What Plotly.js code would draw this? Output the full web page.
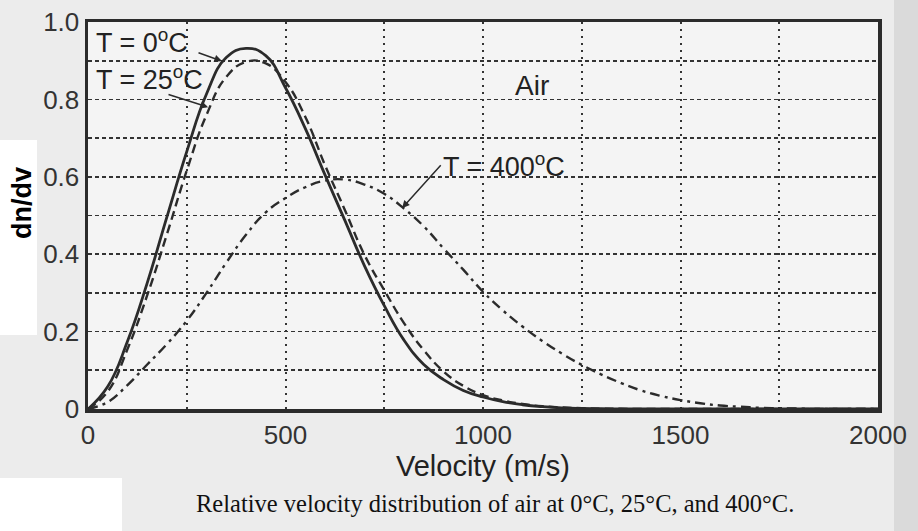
<!DOCTYPE html>
<html>
<head>
<meta charset="utf-8">
<script src="https://cdn.plot.ly/plotly-3.0.1.min.js"></script>
<style>
  html, body { margin: 0; padding: 0; background: #ececec; }
  #chart { width: 918px; height: 531px; }
</style>
</head>
<body>
<div id="chart"></div>
<script>
// Velocity (m/s)
const velocity = [0, 50, 100, 150, 200, 250, 300, 350, 400, 450, 500, 550, 600, 650, 700, 750, 800, 850, 900, 950,
                  1000, 1050, 1100, 1150, 1200, 1250, 1300, 1350, 1400, 1450, 1500, 1550, 1600, 1650, 1700, 1750, 1800, 1850, 1900, 1950, 2000];
// Relative dn/dv
const air0C = [0, 0.058, 0.175, 0.326, 0.497, 0.665, 0.814, 0.908, 0.932, 0.913, 0.83, 0.725, 0.605, 0.488, 0.37, 0.267, 0.178, 0.115, 0.076, 0.048,
               0.031, 0.019, 0.011, 0.006, 0.003, 0.0015, 0.0007, 0.0003, 0, 0, 0, 0, 0, 0, 0, 0, 0, 0, 0, 0, 0];
const air25C = [0, 0.045, 0.155, 0.294, 0.452, 0.616, 0.76, 0.858, 0.897, 0.893, 0.845, 0.755, 0.63, 0.515, 0.398, 0.307, 0.222, 0.152, 0.097, 0.06,
                0.036, 0.022, 0.013, 0.007, 0.004, 0.002, 0.001, 0.0005, 0, 0, 0, 0, 0, 0, 0, 0, 0, 0, 0, 0, 0];
const air400C = [0, 0.018, 0.062, 0.115, 0.168, 0.228, 0.30, 0.378, 0.45, 0.508, 0.545, 0.573, 0.59, 0.593, 0.58, 0.556, 0.518, 0.472, 0.415, 0.36,
                 0.303, 0.255, 0.213, 0.176, 0.143, 0.114, 0.089, 0.067, 0.048, 0.034, 0.023, 0.015, 0.009, 0.006, 0.003, 0.002, 0.001, 0, 0, 0, 0];

const ink = '#2b2b2b';
const sans = 'Liberation Sans, Arial, Helvetica, sans-serif';

const traces = [
  { x: velocity, y: air0C, type: 'scatter', mode: 'lines', name: 'T = 0°C',
    line: { color: ink, width: 2.8, shape: 'spline', smoothing: 1.3 } },
  { x: velocity, y: air25C, type: 'scatter', mode: 'lines', name: 'T = 25°C',
    line: { color: ink, width: 2.4, dash: '9px,5px', shape: 'spline', smoothing: 1.3 } },
  { x: velocity, y: air400C, type: 'scatter', mode: 'lines', name: 'T = 400°C',
    line: { color: ink, width: 2.4, dash: '10px,5px,3px,5px', shape: 'spline', smoothing: 1.3 } }
];

// pixel -> paper helpers for decorative background patches and outer texts
const L = 88, R = 878, T = 22, B = 409;
const px = v => (v - L) / (R - L);
const py = v => (B - v) / (B - T);

const layout = {
  width: 918, height: 531,
  margin: { l: L, r: 918 - R, t: T, b: 531 - B },
  paper_bgcolor: '#ececec',
  plot_bgcolor: '#f4f4f4',
  showlegend: false,
  font: { family: sans, color: '#333' },
  xaxis: {
    range: [0, 2000], tick0: 0, dtick: 500, ticks: '',
    showline: true, linecolor: ink, linewidth: 3.5, mirror: true,
    showgrid: true, gridcolor: '#333', gridwidth: 2, griddash: '2px,5px',
    minor: { tick0: 0, dtick: 250, showgrid: true, gridcolor: '#333', gridwidth: 2, griddash: '2px,5px', ticks: '' },
    zeroline: false, tickfont: { size: 26, color: '#333', family: sans },
    title: { text: 'Velocity (m/s)', font: { size: 29, color: '#222', family: sans }, standoff: 4 },
    automargin: false
  },
  yaxis: {
    range: [0, 1.0], ticks: '',
    tickvals: [0, 0.2, 0.4, 0.6, 0.8, 1.0], ticktext: ['0', '0.2', '0.4', '0.6', '0.8', '1.0'],
    showline: true, linecolor: ink, linewidth: 3.5, mirror: true,
    showgrid: true, gridcolor: '#333', gridwidth: 1.6, griddash: '4px,3px',
    minor: { tick0: 0, dtick: 0.1, showgrid: true, gridcolor: '#333', gridwidth: 1.6, griddash: '4px,3px', ticks: '' },
    zeroline: false, tickfont: { size: 26, color: '#333', family: sans },
    automargin: false
  },
  shapes: [
    { type: 'rect', xref: 'paper', yref: 'paper', x0: px(0), x1: px(37), y0: py(335), y1: py(140),
      fillcolor: '#ffffff', line: { width: 0 }, layer: 'below' },
    { type: 'rect', xref: 'paper', yref: 'paper', x0: px(0), x1: px(122), y0: py(531), y1: py(478),
      fillcolor: '#ffffff', line: { width: 0 }, layer: 'below' },
    { type: 'rect', xref: 'paper', yref: 'paper', x0: px(894), x1: px(918), y0: py(531), y1: py(0),
      fillcolor: '#dadada', line: { width: 0 }, layer: 'below' }
  ],
  annotations: [
    { x: px(22), y: py(203), xref: 'paper', yref: 'paper', xanchor: 'center', yanchor: 'middle', showarrow: false,
      textangle: -90, text: '<b>dn/dv</b>', font: { size: 27, color: '#000', family: sans } },
    { x: 15, y: 0.951, xref: 'x', yref: 'y', xanchor: 'left', yanchor: 'middle', showarrow: false,
      text: 'T = 0<sup>o</sup>C', font: { size: 27, color: '#222', family: sans } },
    { x: 15, y: 0.855, xref: 'x', yref: 'y', xanchor: 'left', yanchor: 'middle', showarrow: false,
      text: 'T = 25<sup>o</sup>C', font: { size: 27, color: '#222', family: sans } },
    { x: 1124, y: 0.835, xref: 'x', yref: 'y', xanchor: 'center', yanchor: 'middle', showarrow: false,
      text: 'Air', font: { size: 28, color: '#222', family: sans } },
    { x: 339, y: 0.899, ax: 276, ay: 0.922, xref: 'x', yref: 'y', axref: 'x', ayref: 'y', text: '',
      showarrow: true, arrowhead: 2, arrowsize: 1, arrowwidth: 1.5, arrowcolor: ink, standoff: 0 },
    { x: 304, y: 0.780, ax: 200, ay: 0.814, xref: 'x', yref: 'y', axref: 'x', ayref: 'y', text: '',
      showarrow: true, arrowhead: 2, arrowsize: 1, arrowwidth: 1.5, arrowcolor: ink, standoff: 0 },
    { x: 795, y: 0.519, ax: 893, ay: 0.630, xref: 'x', yref: 'y', axref: 'x', ayref: 'y',
      xanchor: 'left', yanchor: 'middle', text: 'T = 400<sup>o</sup>C', font: { size: 27, color: '#222', family: sans },
      showarrow: true, arrowhead: 2, arrowsize: 1, arrowwidth: 1.5, arrowcolor: ink, standoff: 0 },
    { x: px(495), y: py(503), xref: 'paper', yref: 'paper', xanchor: 'center', yanchor: 'middle', showarrow: false,
      text: 'Relative velocity distribution of air at 0°C, 25°C, and 400°C.',
      font: { size: 24.5, color: '#111', family: 'Liberation Serif, Times New Roman, serif' } }
  ]
};

Plotly.newPlot('chart', traces, layout, { staticPlot: true, displayModeBar: false });
</script>
</body>
</html>
